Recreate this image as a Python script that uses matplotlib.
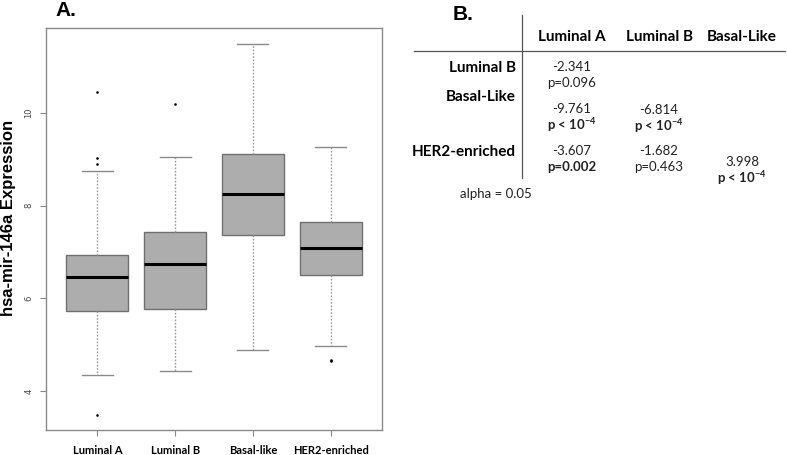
import matplotlib
matplotlib.use("Agg")
import matplotlib.pyplot as plt

plt.rcParams["font.family"] = ["Lato", "DejaVu Sans"]
plt.rcParams["mathtext.fontset"] = "custom"
plt.rcParams["mathtext.rm"] = "Lato"
plt.rcParams["mathtext.bf"] = "Lato:bold"

# ---- panel A: box statistics ----
groups = ["Luminal A", "Luminal B", "Basal-like", "HER2-enriched"]
whislo = [4.35, 4.44, 4.89, 4.98]
q1 = [5.73, 5.78, 7.37, 6.50]
med = [6.45, 6.73, 8.26, 7.09]
q3 = [6.94, 7.42, 9.11, 7.65]
whishi = [8.74, 9.05, 11.49, 9.26]
fliers = [[10.45, 9.02, 8.90, 3.48], [10.19], [], [4.67, 4.65]]

# ---- panel B: pairwise comparison table ----
col_labels = ["Luminal A", "Luminal B", "Basal-Like"]
row_labels = ["Luminal B", "Basal-Like", "HER2-enriched"]
stat_vals = [["-2.341", None, None],
             ["-9.761", "-6.814", None],
             ["-3.607", "-1.682", "3.998"]]
p_vals = [["p=0.096", None, None],
          ["p < 10$^{\\mathbf{-4}}$", "p < 10$^{\\mathbf{-4}}$", None],
          ["p=0.002", "p=0.463", "p < 10$^{\\mathbf{-4}}$"]]
p_bold = [[False, False, False],
          [True, True, False],
          [True, False, True]]
alpha_note = "alpha = 0.05"

W, H = 787, 455
fig = plt.figure(figsize=(W / 100, H / 100), dpi=100)


def fx(px):
    return px / W


def fy(py):
    return 1 - py / H


ax = fig.add_axes([fx(46), fy(430), fx(336), 402 / H])
stats = []
for i, g in enumerate(groups):
    stats.append(dict(label=g, whislo=whislo[i], q1=q1[i], med=med[i],
                      q3=q3[i], whishi=whishi[i], fliers=fliers[i]))
ax.bxp(stats, positions=range(1, 5), widths=0.8, patch_artist=True,
       boxprops=dict(facecolor="#adadad", edgecolor="#707070", lw=1.0),
       medianprops=dict(color="black", lw=2.2),
       whiskerprops=dict(color="#9a9a9a", lw=1.0, ls=(0, (1.2, 1.2))),
       capprops=dict(color="#8a8a8a", lw=1.0), capwidths=0.4,
       flierprops=dict(marker="o", ms=1.4, mew=0.4, mfc="black", mec="black"))
ax.set_xlim(0.34, 4.66)
ax.set_ylim(3.16, 11.83)
ax.set_yticks([4, 6, 8, 10])
ax.set_yticklabels(["4", "6", "8", "10"], rotation=90, va="center",
                   fontsize=6, family="DejaVu Sans", color="#444444")
ax.tick_params(axis="y", length=4, color="#888888", pad=5)
ax.tick_params(axis="x", length=4, color="#888888", pad=7)
for t in ax.get_xticklabels():
    t.set_fontweight("bold")
    t.set_fontsize(8)

for s in ax.spines.values():
    s.set_color("#8a8a8a")
    s.set_linewidth(1.0)

fig.text(fx(9), fy(218), "hsa-mir-146a Expression", fontsize=12,
         fontweight="bold", family="Liberation Sans", rotation=90,
         ha="center", va="center")
fig.text(fx(55), fy(11), "A.", fontsize=15, fontweight="bold",
         family="Liberation Sans", va="center", ha="left")

# ---- panel B drawing ----
fig.text(fx(453), fy(15), "B.", fontsize=15, fontweight="bold",
         family="Liberation Sans", va="center", ha="left")
fig.add_artist(plt.Line2D([fx(414), fx(785)], [fy(50.5), fy(50.5)],
                          color="#555555", lw=0.9))
fig.add_artist(plt.Line2D([fx(521.5), fx(521.5)], [fy(15), fy(178)],
                          color="#555555", lw=0.9))

col_x = [572, 659, 742]
row_y = [68, 97, 152]
stat_y = [[67, None, None], [109, 110, None], [151, 151, 162]]
for j, c in enumerate(col_labels):
    fig.text(fx(col_x[j]), fy(37), c, fontsize=11, fontweight="bold",
             ha="center", va="center")
for i, r in enumerate(row_labels):
    fig.text(fx(516), fy(row_y[i]), r, fontsize=11, fontweight="bold",
             ha="right", va="center")
    for j in range(3):
        if stat_vals[i][j] is None:
            continue
        y0 = stat_y[i][j]
        fig.text(fx(col_x[j]), fy(y0), stat_vals[i][j], fontsize=9.5,
                 ha="center", va="center", color="#222222")
        fig.text(fx(col_x[j]), fy(y0 + 16), p_vals[i][j], fontsize=9.5,
                 ha="center", va="center", color="#222222",
                 fontweight="bold" if p_bold[i][j] else "normal")
fig.text(fx(496), fy(194), alpha_note, fontsize=9.5, ha="center",
         va="center", color="#222222")

fig.savefig("out.png", dpi=100)
